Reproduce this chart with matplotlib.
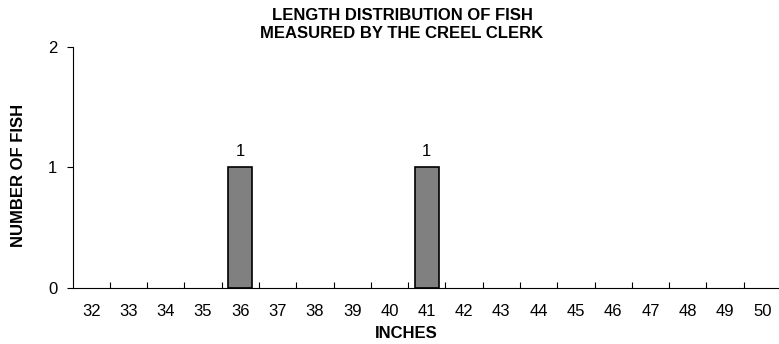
import matplotlib
matplotlib.use("Agg")
import matplotlib.pyplot as plt
import numpy as np

plt.rcParams['font.family'] = ['Liberation Sans', 'DejaVu Sans']

inches = [str(i) for i in range(32, 51)]
counts = [0, 0, 0, 0, 1, 0, 0, 0, 0, 1, 0, 0, 0, 0, 0, 0, 0, 0, 0]
yticks = [0, 1, 2]

W, H = 779, 344
fig = plt.figure(figsize=(W / 100, H / 100), dpi=100)
left, right, bottom, top = 72.5, 781.0, 287.5, 47.0
ax = fig.add_axes([left / W, 1 - bottom / H, (right - left) / W, (bottom - top) / H])

x = np.arange(len(inches))
edges = ['black' if c > 0 else 'none' for c in counts]
ax.bar(x, counts, width=0.65, color='#808080', edgecolor=edges, linewidth=1.2, zorder=3)
for xi, c in zip(x, counts):
    if c > 0:
        ax.annotate(str(c), (xi, c), xytext=(0, 6), textcoords='offset points',
                    ha='center', va='bottom', fontsize=12)

ax.set_xlim(-0.5, len(inches) - 0.5)
ax.set_ylim(0, 2)
ax.set_yticks(yticks)
ax.set_yticklabels([str(v) for v in yticks], fontsize=12)
ax.set_xticks(x)
ax.set_xticklabels(inches, fontsize=12)
ax.tick_params(axis='x', length=0, pad=12)
ax.set_xticks(np.arange(0.5, len(inches) - 1, 1.0), minor=True)
ax.tick_params(axis='x', which='minor', direction='in', length=4, color='black', width=0.8)
ax.tick_params(axis='y', direction='out', length=4, width=0.8, pad=7)

for s in ['top', 'right']:
    ax.spines[s].set_visible(False)
for s in ['left', 'bottom']:
    ax.spines[s].set_color('black')
    ax.spines[s].set_linewidth(0.8)
    ax.spines[s].set_zorder(4)

fig.text(402 / W, 1 - 16 / H, 'LENGTH DISTRIBUTION OF FISH', ha='center', va='center',
         fontsize=12, fontweight='bold')
fig.text(402 / W, 1 - 34 / H, 'MEASURED BY THE CREEL CLERK', ha='center', va='center',
         fontsize=12, fontweight='bold')
fig.text(406.5 / W, 1 - 334 / H, 'INCHES', ha='center', va='center', fontsize=12, fontweight='bold')
fig.text(19 / W, 1 - 175 / H, 'NUMBER OF FISH', ha='center', va='center', rotation=90,
         fontsize=12, fontweight='bold')

fig.savefig('out.png', dpi=100)
